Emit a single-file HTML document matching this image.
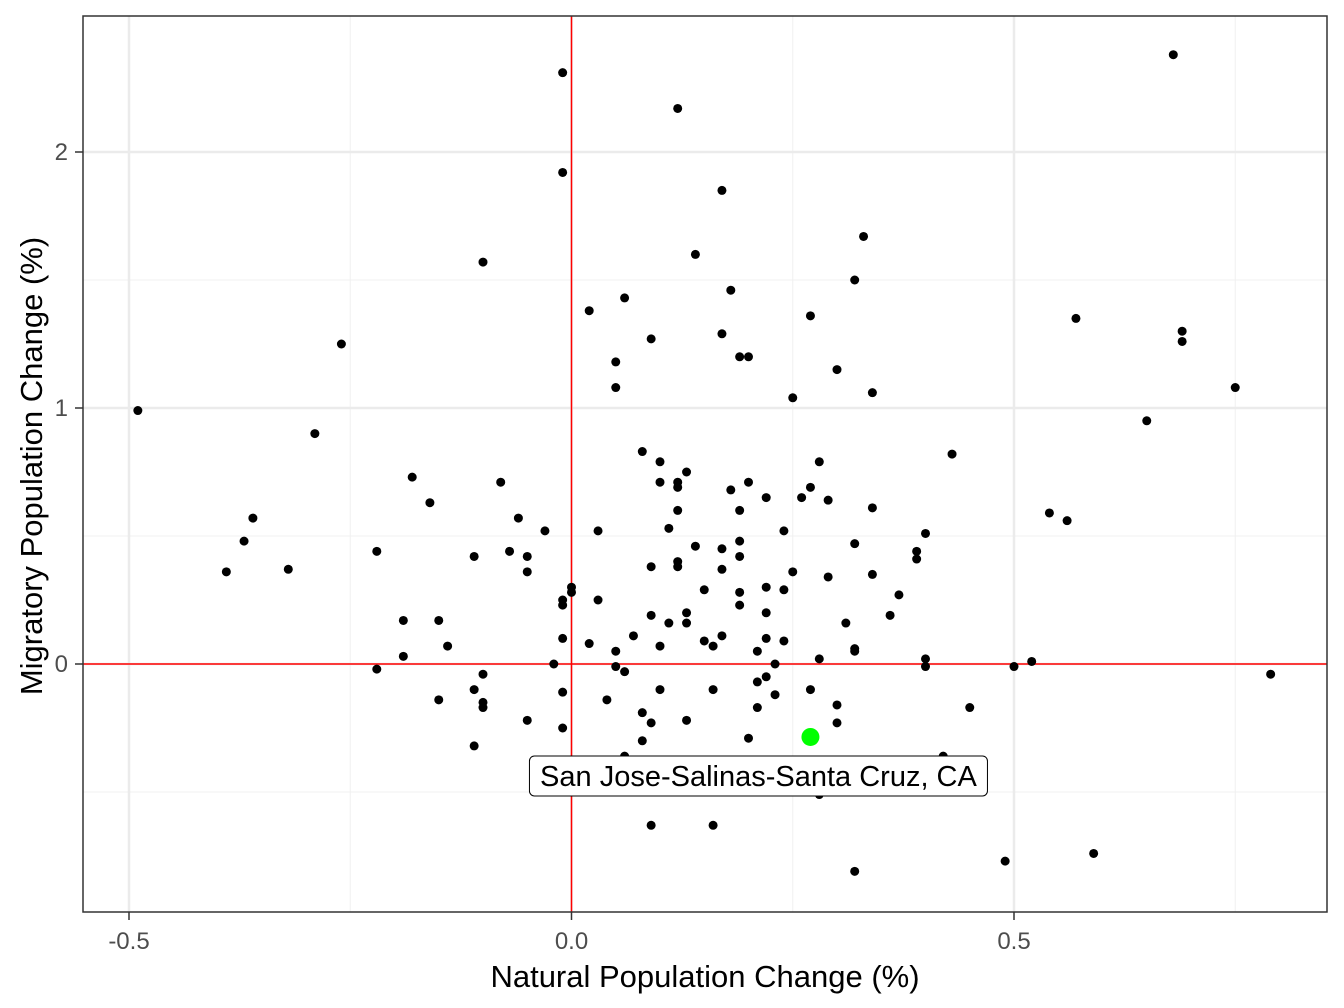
<!DOCTYPE html>
<html><head><meta charset="utf-8"><style>
body{margin:0;background:#fff}
svg{display:block;font-family:"Liberation Sans",sans-serif}
</style></head><body>
<svg id="chart" width="1344" height="1008" viewBox="0 0 1344 1008">
<rect width="1344" height="1008" fill="#fff"/>
<g id="grid"></g>
<g id="refs"></g>
<g id="pts"></g>
<g id="ann"></g>
<rect x="83" y="16" width="1244" height="896" fill="none" stroke="#333" stroke-width="1.5"/>
<g id="axes"></g>
<text x="705" y="987" font-size="31" text-anchor="middle" fill="#000">Natural Population Change (%)</text>
<text transform="translate(42,466) rotate(-90)" font-size="31" text-anchor="middle" fill="#000">Migratory Population Change (%)</text>
</svg>
<script>
const xs=[-0.49,-0.01,0.12,0.68,-0.01,0.17,0.14,0.33,-0.10,0.32,0.18,0.06,0.02,0.27,0.57,0.69,0.69,-0.26,0.17,0.09,0.19,0.20,0.05,0.30,0.05,0.75,0.34,0.25,-0.29,0.65,0.08,0.43,0.10,0.28,0.13,-0.18,-0.08,0.10,0.12,0.12,0.20,0.18,0.27,0.22,0.26,0.29,-0.16,0.12,0.19,0.34,0.54,0.56,-0.36,-0.06,0.11,-0.03,0.03,0.24,0.40,-0.37,0.19,0.32,0.14,0.17,0.39,-0.22,-0.07,-0.11,-0.05,0.19,0.39,0.12,0.09,0.12,-0.39,-0.32,-0.05,0.17,0.25,0.29,0.34,0.22,0.00,0.00,0.15,0.19,0.24,0.37,-0.01,0.03,0.19,-0.01,0.13,0.22,0.36,0.09,-0.19,-0.15,0.11,0.13,0.31,0.07,-0.01,0.15,0.16,0.17,0.22,0.24,0.02,-0.14,0.10,0.21,0.32,0.32,0.05,-0.19,0.28,0.40,0.52,-0.02,0.23,0.05,0.50,0.40,-0.22,0.06,0.22,-0.10,0.21,0.79,-0.11,-0.01,0.10,0.16,0.27,0.23,-0.15,-0.10,0.04,-0.10,0.21,0.30,0.45,0.08,-0.05,0.09,0.13,0.30,-0.01,0.20,0.08,-0.11,0.06,0.42,0.28,0.09,0.16,0.49,0.59,0.32];
const ys=[0.99,2.31,2.17,2.38,1.92,1.85,1.60,1.67,1.57,1.50,1.46,1.43,1.38,1.36,1.35,1.30,1.26,1.25,1.29,1.27,1.20,1.20,1.18,1.15,1.08,1.08,1.06,1.04,0.90,0.95,0.83,0.82,0.79,0.79,0.75,0.73,0.71,0.71,0.71,0.69,0.71,0.68,0.69,0.65,0.65,0.64,0.63,0.60,0.60,0.61,0.59,0.56,0.57,0.57,0.53,0.52,0.52,0.52,0.51,0.48,0.48,0.47,0.46,0.45,0.44,0.44,0.44,0.42,0.42,0.42,0.41,0.40,0.38,0.38,0.36,0.37,0.36,0.37,0.36,0.34,0.35,0.30,0.30,0.28,0.29,0.28,0.29,0.27,0.25,0.25,0.23,0.23,0.20,0.20,0.19,0.19,0.17,0.17,0.16,0.16,0.16,0.11,0.10,0.09,0.07,0.11,0.10,0.09,0.08,0.07,0.07,0.05,0.06,0.05,0.05,0.03,0.02,0.02,0.01,0.00,0.00,-0.01,-0.01,-0.01,-0.02,-0.03,-0.05,-0.04,-0.07,-0.04,-0.10,-0.11,-0.10,-0.10,-0.10,-0.12,-0.14,-0.15,-0.14,-0.17,-0.17,-0.16,-0.17,-0.19,-0.22,-0.23,-0.22,-0.23,-0.25,-0.29,-0.30,-0.32,-0.36,-0.36,-0.51,-0.63,-0.63,-0.77,-0.74,-0.81];
const hlX=[0.27], hlY=[-0.285], hlLabel=["San Jose-Salinas-Santa Cruz, CA"];
const xTicks=[-0.5,0,0.5], xTickLabels=["-0.5","0.0","0.5"], xMinor=[-0.25,0.25,0.75];
const yTicks=[0,1,2], yTickLabels=["0","1","2"], yMinor=[-0.5,0.5,1.5];
const X=v=>571.5+v*885, Y=v=>664-v*256;
const NS="http://www.w3.org/2000/svg";
function mk(p,t,a){const e=document.createElementNS(NS,t);for(const k in a)e.setAttribute(k,a[k]);p.appendChild(e);return e;}
const grid=document.getElementById('grid'),refs=document.getElementById('refs'),pts=document.getElementById('pts'),ann=document.getElementById('ann'),axes=document.getElementById('axes');
xMinor.forEach(v=>{const l=mk(grid,'line',{x1:X(v),x2:X(v),y1:16,y2:912,stroke:'#f0f0f0','stroke-width':1});

});
yMinor.forEach(v=>{const l=mk(grid,'line',{x1:83,x2:1327,y1:Y(v),y2:Y(v),stroke:'#f0f0f0','stroke-width':1});

});
xTicks.forEach((v,i)=>{const l=mk(grid,'line',{x1:X(v),x2:X(v),y1:16,y2:912,stroke:'#ebebeb','stroke-width':2.5});


const t=mk(axes,'line',{x1:X(v),x2:X(v),y1:912,y2:920,stroke:'#333','stroke-width':1.5});


const tx=mk(axes,'text',{x:X(v),y:949,'font-size':24,'text-anchor':'middle',fill:'#4d4d4d'});tx.textContent=xTickLabels[i];

});
yTicks.forEach((v,i)=>{const l=mk(grid,'line',{x1:83,x2:1327,y1:Y(v),y2:Y(v),stroke:'#ebebeb','stroke-width':2.5});


const t=mk(axes,'line',{x1:75,x2:83,y1:Y(v),y2:Y(v),stroke:'#333','stroke-width':1.5});


const tx=mk(axes,'text',{x:68,y:Y(v)+8,'font-size':24,'text-anchor':'end',fill:'#4d4d4d'});tx.textContent=yTickLabels[i];

});
const rv=mk(refs,'line',{x1:X(0),x2:X(0),y1:16,y2:912,stroke:'#ff0000','stroke-width':1.5});


const rh=mk(refs,'line',{x1:83,x2:1327,y1:Y(0),y2:Y(0),stroke:'#ff0000','stroke-width':1.5});


xs.forEach((v,i)=>{const c=mk(pts,'circle',{cx:X(v),cy:Y(ys[i]),r:4.5,fill:'#000'});

});
hlX.forEach((v,i)=>{const c=mk(ann,'circle',{cx:X(v),cy:Y(hlY[i]),r:9,fill:'#00ff00'});


const cx=X(v)-52, cy=Y(hlY[i])+39;
const r=mk(ann,'rect',{x:cx-229,y:cy-20,width:458,height:40,rx:5,fill:'#fff',stroke:'#000','stroke-width':1});


const t=mk(ann,'text',{x:cx,y:cy+10,'font-size':29,'text-anchor':'middle',fill:'#000'});t.textContent=hlLabel[i];

});
</script>
</body></html>
